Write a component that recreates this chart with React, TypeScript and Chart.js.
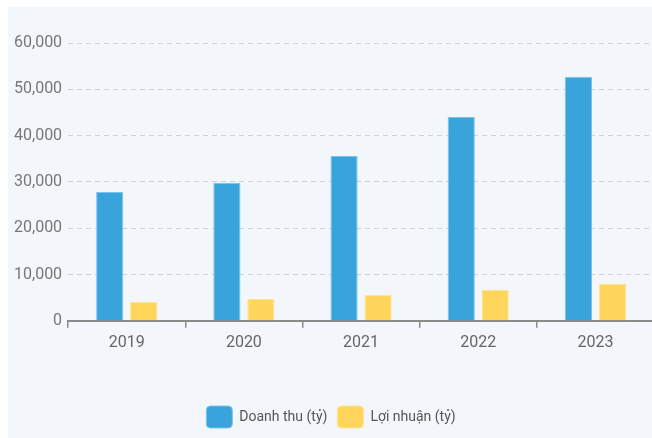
import React, { useEffect, useRef } from "react";
import { Chart, registerables } from "chart.js";

Chart.register(...registerables);

const categories = ["2019", "2020", "2021", "2022", "2023"];
const revenue = [27800, 29800, 35600, 44000, 52700];
const profit = [4100, 4700, 5600, 6700, 8000];
const seriesNames = ["Doanh thu (tỷ)", "Lợi nhuận (tỷ)"];

const FONT = "'Roboto', sans-serif";

export default function App() {
  const ref = useRef<HTMLCanvasElement | null>(null);
  useEffect(() => {
    document.body.style.overflow = "hidden";
    const ctx = ref.current!;
    const chart = new Chart(ctx, {
      type: "bar",
      data: {
        labels: categories,
        datasets: [
          {
            label: seriesNames[0],
            data: revenue,
            backgroundColor: "#39a3db",
            borderColor: "#7cc4ec",
            borderWidth: 1,
            categoryPercentage: 0.58,
            barPercentage: 0.8,
          },
          {
            label: seriesNames[1],
            data: profit,
            backgroundColor: "#ffd65b",
            borderColor: "#ffe48f",
            borderWidth: 1,
            categoryPercentage: 0.58,
            barPercentage: 0.8,
          },
        ],
      },
      options: {
        animation: false,
        responsive: false,
        maintainAspectRatio: false,
        layout: { padding: { left: 0, top: 36, right: 0, bottom: 0 } },
        plugins: {
          tooltip: { enabled: false },
          legend: {
            position: "bottom",
            labels: {
              boxWidth: 26,
              boxHeight: 22,
              useBorderRadius: true,
              borderRadius: 4,
              color: "#555",
              font: { family: FONT, size: 14 },
              padding: 10,
            },
          },
        },
        scales: {
          x: {
            grid: {
              drawOnChartArea: false,
              drawTicks: true,
              tickLength: 7,
              color: "#8a8a8a",
              lineWidth: 1.5,
            },
            border: { display: true, color: "#8a8a8a", width: 2 },
            ticks: { color: "#666", font: { family: FONT, size: 16 }, padding: 6 },
            afterFit: (scale: any) => {
              scale.height += 37;
            },
          },
          y: {
            min: 0,
            max: 60000,
            ticks: {
              stepSize: 10000,
              color: "#777",
              font: { family: FONT, size: 16 },
              padding: 6,
              callback: (v: any) => Number(v).toLocaleString("en-US"),
            },
            grid: {
              drawTicks: false,
              color: "#cdd1d6",
              lineWidth: 1,
            },
            border: { display: false, dash: [5, 4] },
          },
        },
      },
    });
    return () => chart.destroy();
  }, []);
  return (
    <div
      style={{
        position: "absolute",
        left: 8,
        top: 7,
        width: 646,
        height: 431,
        background: "#f3f7fb",
      }}
    >
      <canvas ref={ref} width={646} height={431} style={{ display: "block" }} />
    </div>
  );
}
